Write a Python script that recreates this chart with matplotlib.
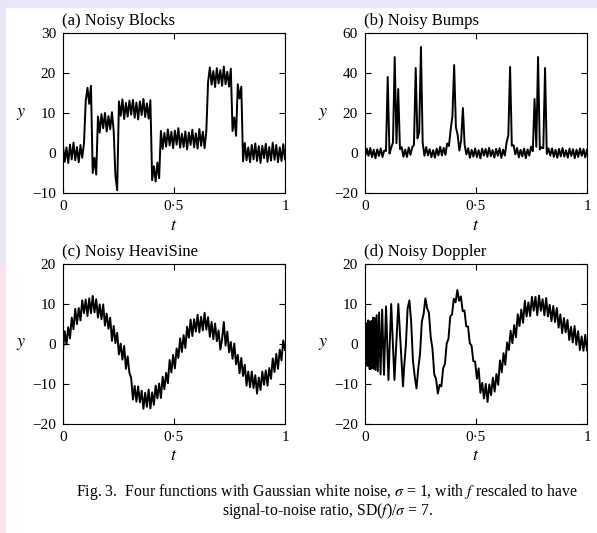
import numpy as np
import matplotlib.pyplot as plt

plt.rcParams['font.family'] = ['Liberation Serif', 'DejaVu Serif']
plt.rcParams['mathtext.fontset'] = 'stix'

# sample positions (t) for blocks, bumps, heavisine
t_grid = np.linspace(0, 1, 128)

# values
blocks_y = [1.9, -2.2, 1.4, -2.5, 2.1, -1.6, 2.6, -1.8, 1.5, -2.3, 2.0, -1.2, 2.4,
            13.0, 16.3, 12.3, 16.8,
            -5.0, -1.2, -5.4,
            9.1, 5.1, 9.7, 6.2, 10.0, 5.4, 9.2, 5.9, 10.2, 5.5,
            -5.8, -9.3,
            12.9, 9.3, 13.4, 8.5, 12.5, 9.1, 13.1, 9.6, 13.3, 8.8, 12.6, 8.4, 12.9, 9.5,
            13.5, 9.0, 12.4, 8.6, 13.2,
            -6.8, -3.3, -7.1, -2.4, -6.3,
            5.5, 1.0, 5.0, 1.6, 5.9, 1.9, 5.3, 1.2, 5.6, 2.1, 6.2, 1.3, 4.8, 1.5, 5.4,
            0.9, 5.1, 2.0, 5.8, 1.4, 4.9, 1.1, 6.0, 1.8, 5.3, 1.2, 5.5,
            17.8, 21.4, 17.1, 20.5, 16.5, 21.2, 17.4, 20.7, 16.8, 21.6, 17.2, 20.3, 16.6, 21.1,
            5.5, 8.9, 4.3,
            17.2, 13.6, 16.6,
            -2.1, 2.5, -1.8, 1.4, -2.3, 2.0, -1.6, 2.4, -2.0, 1.7, -2.5, 1.8, -1.3, 2.3,
            -2.2, 1.5, -1.9, 2.6, -1.7, 2.0, -2.3, 1.4, -2.0, 2.2, -1.6]

bumps_y = [-1.9, 2.2, -1.4, 2.5, -2.1, 1.6, -2.6, 1.8, -1.5, 2.3, -2.0, 1.2,
           1.0, 38.0, -0.3, 2.7, 5.2, 48.0, 4.9, 32.0, 2.0,
           2.9, -1.9, 1.7, -2.0, 2.7, -0.9, 2.8,
           4.0, 42.5, 7.3, 10.3, 53.0, 5.0, -1.4,
           3.0, -1.2, 1.9, -2.1, 1.4, -2.3, 2.2,
           -1.2, 3.1, -1.2, 2.6, -0.9, 4.8, 3.5, 11.6, 18.3, 44.0, 12.9, 9.1, 1.2, 6.3,
           22.5, 4.0, -0.7, 2.4,
           -2.4, 1.6, -1.8, 2.3, -2.1, 1.4, -2.7, 2.2, -1.3, 2.0, -1.9, 2.6, -1.6, 1.5,
           -2.3, 2.1, -1.4, 2.4, -2.5, 1.7,
           -1.3, 5.3, 9.0, 43.0, 3.6, 3.9, -0.7,
           2.5, -2.2, 1.6, -1.7, 2.2, -2.6, 1.8, -1.3,
           3.2, 0.9, 27.0, 3.1, 48.0, 1.8, 2.9, 2.4, 42.5, -0.5, 2.3,
           -1.4, 2.3, -2.0, 1.6, -2.4, 2.0, -1.7, 2.5, -1.8, 1.3, -2.3, 2.2, -1.5, 1.9,
           -2.6, 1.7, -2.0, 2.3, -1.4, 2.0, -2.2, 1.6]

heavisine_y = [-1.6, 3.2, -0.1, 4.2, 1.4, 6.6, 3.7, 8.8, 5.0, 9.0, 5.9, 10.9, 7.7, 11.1,
               7.0, 11.4, 7.7, 12.0, 7.9, 11.2,
               6.6, 9.9, 6.2, 9.9, 4.6, 7.6, 3.8, 6.6, 0.8, 4.5, 0.2, 2.8, -2.6, 0.1,
               -3.9, -0.5, -6.2, -3.1, -7.2, -8.5,
               -13.9, -10.5, -14.4, -10.6, -14.6, -11.7, -16.2, -12.2, -15.7, -11.4,
               -16.1, -12.1, -15.2, -10.4, -13.6, -9.9, -13.5, -8.2, -11.3, -7.2,
               -9.8, -4.0, -7.1, -2.7, -6.1, -1.1, -3.5, 1.4, -2.0, 2.2, -1.0, 4.3, 1.6,
               6.1, 2.0, 6.2, 3.1, 7.3, 2.9, 6.8,
               3.4, 7.8, 3.6, 6.7, 1.8, 5.5, 1.2, 5.1, 0.7, 3.4, -1.4, 1.2, 5.5, -0.4,
               3.1, -2.1, 0.5, -3.7, 0.1, -5.1,
               -2.7, -7.3, -3.5, -8.0, -5.2, -10.4, -6.9, -10.8, -6.9, -11.0, -7.8,
               -12.4, -8.4, -11.5, -6.9, -10.2, -6.6, -10.4, -6.0, -8.7,
               -3.6, -7.0, -2.5, -6.2, -1.4, -4.1, 0.9, -1.5]

# Doppler: oscillation extremes near t = 0, then an even grid
doppler_t_fast = [0.0, 0.0006, 0.0019, 0.0032, 0.0045, 0.0060, 0.0075, 0.0092, 0.0109,
                  0.0127, 0.0146, 0.0167, 0.0189, 0.0212, 0.0237, 0.0264, 0.0292,
                  0.0324, 0.0357, 0.0394, 0.0433, 0.0477, 0.0524, 0.0577, 0.0635,
                  0.0700, 0.0773, 0.0855, 0.0948, 0.1056, 0.1180, 0.1326, 0.1500, 0.1711]
doppler_y_fast = [0.5, -3.4, 4.0, -3.9, 4.8, -4.6, 4.4, -5.5, 5.3, -4.9, 5.9, -5.4,
                  5.6, -6.3, 5.2, -6.2, 5.8, -6.0, 6.6, -6.2, 6.5, -6.5, 7.2, -6.8,
                  7.9, -7.6, 8.6, -7.7, 9.4, -9.0, 10.0, -9.0, 10.0, -10.6]
doppler_y_slow = [-6.0, -0.3, 8.9, 10.9, 5.5, -4.2, -8.1, -11.1, -6.1, -2.4,
                  5.6, 7.5, 11.4, 8.9, 7.8, 1.7, -1.2, -7.6, -8.7, -12.4,
                  -10.2, -10.6, -6.1, -5.0, 0.1, 1.3, 6.9, 7.4, 11.3, 10.4,
                  13.5, 10.8, 11.9, 8.2, 8.4, 4.4, 4.4, 0.2, -0.4, -4.3,
                  -4.4, -8.7, -6.1, -12.2, -9.7, -13.6, -10.0, -14.5, -10.1, -12.8,
                  -8.4, -11.9, -7.5, -10.2, -4.1, -7.1, -2.3, -5.2, 0.4, -1.5,
                  3.3, 0.2, 4.7, 1.7, 7.4, 4.5, 8.6, 5.3, 10.8, 6.9,
                  10.4, 7.0, 11.8, 8.3, 11.8, 7.2, 12.1, 8.3, 11.2, 7.2,
                  11.5, 6.9, 9.8, 5.7, 9.5, 5.5, 9.0, 4.1, 7.4, 2.7,
                  6.5, 2.9, 6.0, 1.0, 4.3, 0.4, 4.5, -0.2, 3.2, -1.5,
                  1.9, -1.7, 2.3, -1.6]
doppler_t = np.concatenate([doppler_t_fast, np.linspace(0.176, 1.0, 104)])
doppler_y = doppler_y_fast + doppler_y_slow

titles = ['(a) Noisy Blocks', '(b) Noisy Bumps', '(c) Noisy HeaviSine', '(d) Noisy Doppler']
ylims = [(-10, 30), (-20, 60), (-20, 20), (-20, 20)]
yticks = [[-10, 0, 10, 20, 30], [-20, 0, 20, 40, 60],
          [-20, -10, 0, 10, 20], [-20, -10, 0, 10, 20]]
xticks = [0, 0.5, 1]
xticklabels = ['0', '0·5', '1']

W, H = 597, 533
fig = plt.figure(figsize=(W / 100, H / 100), dpi=100)

# faint coloured page edges
strip = fig.add_axes([0, 0, 6 / W, 1])
strip.imshow(np.array([[[0.91, 0.90, 0.97]], [[0.97, 0.89, 0.93]]]),
             aspect='auto', extent=[0, 1, 0, 1])
strip.axis('off')
fig.patches.append(plt.Rectangle((0, 1 - 7 / H), 1, 7 / H, transform=fig.transFigure,
                                 color='#e8e6f8', zorder=0))

# axes boxes in pixels: left, top
boxes = [(63, 33), (365, 33), (63, 264), (365, 264)]
data = [(t_grid, blocks_y), (t_grid, bumps_y), (t_grid, heavisine_y), (doppler_t, doppler_y)]

for k in range(4):
    left, top = boxes[k]
    ax = fig.add_axes([left / W, 1 - (top + 160) / H, 222 / W, 160 / H])
    x, y = data[k]
    ax.plot(x, y, color='k', lw=1.4)
    ax.set_xlim(0, 1)
    ax.set_ylim(*ylims[k])
    ax.set_xticks(xticks)
    ax.set_xticklabels(xticklabels)
    ax.set_yticks(yticks[k])
    ax.tick_params(direction='in', length=4, width=0.8, labelsize=11,
                   top=True, right=True, pad=5)
    for s in ax.spines.values():
        s.set_linewidth(0.8)
    ax.text(-0.005, 1.025, titles[k], transform=ax.transAxes, ha='left', va='bottom',
            fontsize=12)
    ax.text(-0.19, 0.5, '$y$', transform=ax.transAxes, ha='center', va='center',
            fontsize=13)
    ax.text(0.5, -0.2, '$t$', transform=ax.transAxes, ha='center', va='center',
            fontsize=13)

fig.text(327.5 / W, 1 - 492 / H,
         'Fig. 3.  Four functions with Gaussian white noise, $\\sigma$ = 1, with $f$ rescaled to have',
         ha='center', va='center', fontsize=11.3)
fig.text(327.5 / W, 1 - 511 / H,
         'signal-to-noise ratio, SD($f$)/$\\sigma$ = 7.',
         ha='center', va='center', fontsize=11.3)

fig.savefig('out.png', dpi=100)
